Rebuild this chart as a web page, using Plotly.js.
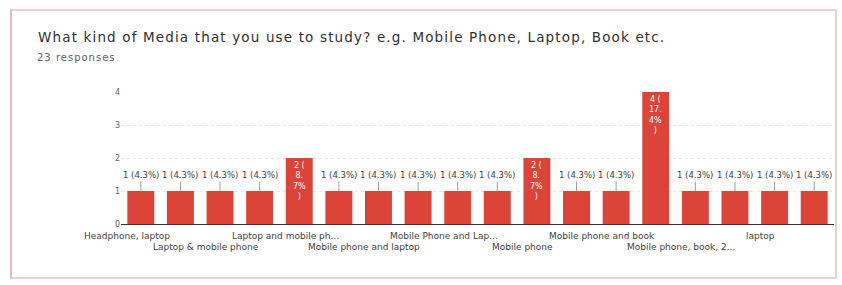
<!DOCTYPE html>
<html>
<head>
<meta charset="utf-8">
<script src="https://cdn.plot.ly/plotly-3.0.1.min.js"></script>
<style>
  html, body { margin: 0; padding: 0; background: #ffffff; }
  #wrap { position: relative; width: 842px; height: 285px; }
  #chart { position: absolute; left: 0; top: 0; width: 842px; height: 285px; }
  #card { position: absolute; left: 10px; top: 9px; width: 823px; height: 266px;
          border: 2px solid #ecd0d0; border-left-color: #e8b9b9; pointer-events: none; }
  #chart .gtitle { letter-spacing: 1.15px; }
  #chart .annotation:last-child .annotation-text { letter-spacing: 1px; }
</style>
</head>
<body>
<div id="wrap">
  <div id="chart"></div>
  <div id="card"></div>
</div>
<script>
// ---- data ----
const categories = [
  "Headphone, laptop", "Laptop & book", "Laptop & mobile phone", "Laptop and Mobile",
  "Laptop and mobile phone", "Mobile", "Mobile phone and laptop", "Mobile Phone and Book",
  "Mobile Phone and Laptop", "Mobile Phone, Laptop", "Mobile phone", "Mobile phone & laptop",
  "Mobile phone and book", "Mobile phone, laptop", "Mobile phone, book, 2...", "Phone",
  "laptop", "phone"
];
const counts = [1, 1, 1, 1, 2, 1, 1, 1, 1, 1, 2, 1, 1, 4, 1, 1, 1, 1];
// labels shown under the axis (every other category, staggered in two rows)
const shownLabels = [
  "Headphone, laptop", "", "Laptop & mobile phone", "", "Laptop and mobile ph...", "",
  "Mobile phone and laptop", "", "Mobile Phone and Lap...", "", "Mobile phone", "",
  "Mobile phone and book", "", "Mobile phone, book, 2...", "", "laptop", ""
];
const yTicks = [0, 1, 2, 3, 4];
const titleText = "What kind of Media that you use to study? e.g. Mobile Phone, Laptop, Book etc.";
const subtitleText = "23 responses";

// ---- build ----
const FONT = "DejaVu Sans, Arial, sans-serif";
const W = 842, H = 285;
const M = { l: 121, r: 8, t: 92, b: 61 };
const plotW = W - M.l - M.r, plotH = H - M.t - M.b;
const total = counts.reduce((a, b) => a + b, 0);
const annotations = [];

counts.forEach((v, i) => {
  const pct = (v / total * 100).toFixed(1);
  if (v === 1) {
    annotations.push({
      x: categories[i], y: v, xref: "x", yref: "y",
      text: v + " (" + pct + "%)",
      showarrow: true, ax: 0, ay: -16, arrowhead: 0, arrowwidth: 1,
      arrowcolor: "#9e9e9e", standoff: 0,
      font: { family: FONT, size: 8.5, color: "#424242" }
    });
  } else {
    const p = pct.split(".");
    const txt = v + " (<br>" + p[0] + ".<br>" + p[1] + "%<br>)";
    annotations.push({
      x: categories[i], y: v, xref: "x", yref: "y",
      text: txt, showarrow: false, yanchor: "top", yshift: -1,
      font: { family: FONT, size: 8, color: "#ffffff" }
    });
  }
});

let row = 0;
shownLabels.forEach((t, i) => {
  if (!t) return;
  annotations.push({
    x: categories[i], y: 0, xref: "x", yref: "paper",
    text: t, showarrow: false, yanchor: "top", xanchor: "center",
    xshift: -14, yshift: row === 0 ? -5 : -16,
    font: { family: FONT, size: 9, color: "#424242" }
  });
  row = 1 - row;
});

annotations.push({
  x: (41 - M.l) / plotW, xref: "paper",
  y: (H - M.b - 57) / plotH, yref: "paper",
  xanchor: "left", yanchor: "middle", showarrow: false,
  text: subtitleText, font: { family: FONT, size: 10, color: "#616161" }
});

const trace = {
  type: "bar",
  x: categories,
  y: counts,
  marker: { color: "#db4437" },
  hoverinfo: "x+y"
};

const layout = {
  width: W, height: H,
  margin: M,
  paper_bgcolor: "rgba(0,0,0,0)",
  plot_bgcolor: "#ffffff",
  bargap: 0.32,
  showlegend: false,
  title: {
    text: titleText,
    x: 38 / W, xref: "container", xanchor: "left",
    y: 1 - 37 / H, yref: "container", yanchor: "middle",
    font: { family: FONT, size: 13.5, color: "#303030" }
  },
  xaxis: {
    type: "category",
    range: [-0.5, categories.length - 0.5],
    showticklabels: false, ticks: "",
    showgrid: false, zeroline: false,
    showline: false
  },
  yaxis: {
    range: [0, 4],
    tickvals: yTicks,
    ticktext: yTicks.map(String),
    ticks: "",
    tickfont: { family: FONT, size: 8, color: "#616161" },
    showgrid: true, gridcolor: "#e6e6e6", griddash: "dot", gridwidth: 1,
    zeroline: true, zerolinecolor: "#333333", zerolinewidth: 1,
    showline: false
  },
  annotations: annotations
};

Plotly.newPlot("chart", [trace], layout, { displayModeBar: false, staticPlot: true });
</script>
</body>
</html>
